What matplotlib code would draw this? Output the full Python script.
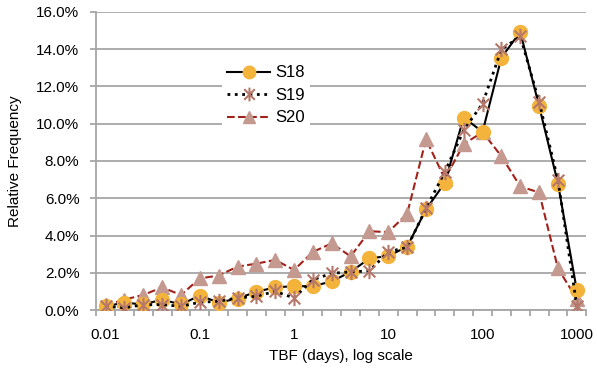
import numpy as np
import matplotlib
matplotlib.use('Agg')
import matplotlib.pyplot as plt
from matplotlib.path import Path
from matplotlib.ticker import FuncFormatter

# bins: 5 per decade, 0.01 .. 1000
bins = ['0.01', '', '', '', '', '0.1', '', '', '', '', '1', '', '', '', '',
        '10', '', '', '', '', '100', '', '', '', '', '1000']

s18 = [0.2, 0.4, 0.3, 0.56, 0.3, 0.78, 0.4, 0.62, 0.98, 1.22, 1.28, 1.28, 1.54,
       2.05, 2.77, 2.9, 3.4, 5.4, 6.83, 10.33, 9.56, 13.55, 14.92, 10.94, 6.79, 1.05]
s19 = [0.2, 0.12, 0.29, 0.29, 0.2, 0.42, 0.47, 0.65, 0.74, 1.0, 0.65, 1.63, 1.97,
       2.05, 2.1, 3.13, 3.36, 5.45, 7.42, 9.65, 11.08, 13.98, 14.69, 11.17, 6.97, 0.21]
s20 = [0.25, 0.56, 0.81, 1.22, 0.81, 1.7, 1.85, 2.33, 2.49, 2.69, 2.15, 3.12, 3.58,
       2.88, 4.23, 4.18, 5.17, 9.16, 7.04, 8.9, 9.55, 8.25, 6.63, 6.31, 2.23, 0.6]

plt.rcParams['font.family'] = ['Liberation Sans', 'DejaVu Sans']
grey = '#a6a6a6'

# excel style "star" marker: x with a vertical bar
star = Path([(-1, -1), (1, 1), (-1, 1), (1, -1), (0, -1.3), (0, 1.3)],
            [Path.MOVETO, Path.LINETO, Path.MOVETO, Path.LINETO, Path.MOVETO, Path.LINETO])

fig = plt.figure(figsize=(5.97, 3.70), dpi=100)
ax = fig.add_axes([0.161, 0.162, 0.821, 0.806])

x = np.arange(len(bins))
ax.plot(x, s18, '-', color='black', lw=1.5, marker='o', ms=10,
        mfc='#f4b33a', mec='#f4b33a', label='S18', zorder=3)
ax.plot(x, s19, ':', color='black', lw=2, marker=star, ms=11,
        mec='#b5786a', mew=1.5, label='S19', zorder=4)
ax.plot(x, s20, '--', color='#a0221a', lw=1.5, marker='^', ms=10,
        mfc='#c49a90', mec='#c49a90', label='S20', zorder=2)

ax.set_xlim(-0.5, len(bins) - 0.5)
ax.set_ylim(0, 16)
ax.set_yticks(np.arange(0, 17, 2))
ax.yaxis.set_major_formatter(FuncFormatter(lambda v, p: '%.1f%%' % v))
ax.grid(axis='y', color=grey, lw=1.3)
ax.set_axisbelow(True)

ax.set_xticks(x[::5])
ax.set_xticklabels(bins[::5])
ax.set_xticks(np.arange(-0.5, len(bins), 1), minor=True)
ax.tick_params(axis='x', which='major', length=0, pad=13, labelsize=11)
ax.tick_params(axis='x', which='minor', length=4, color=grey, width=1.3)
ax.tick_params(axis='y', length=4, color=grey, width=1.3, labelsize=11, pad=8)

for s in ['top', 'right']:
    ax.spines[s].set_visible(False)
for s in ['left', 'bottom']:
    ax.spines[s].set_color(grey)
    ax.spines[s].set_linewidth(1.3)

ax.set_xlabel('TBF (days), log scale', fontsize=11, labelpad=5)
ax.set_ylabel('Relative Frequency', fontsize=11, labelpad=10)

leg = ax.legend(loc='upper left', bbox_to_anchor=(0.24, 0.865), frameon=True,
                fontsize=12, handlelength=2.6, labelspacing=0.45,
                borderpad=0.3, handletextpad=0.3, markerscale=0.9)
leg.get_frame().set_facecolor('white')
leg.get_frame().set_edgecolor('none')
leg.get_frame().set_alpha(1)

fig.savefig('out.png', dpi=100)
